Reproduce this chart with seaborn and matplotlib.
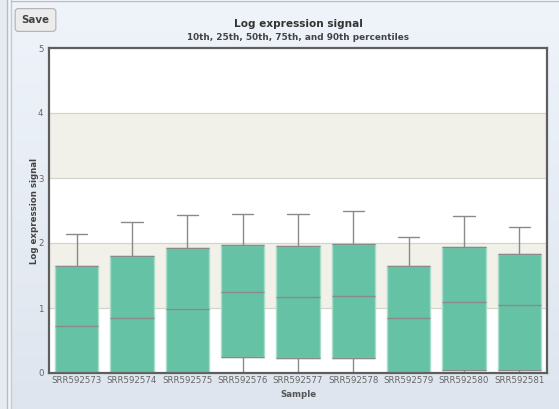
import numpy as np
import pandas as pd
import seaborn as sns
import matplotlib.pyplot as plt
from matplotlib.patches import Rectangle
from matplotlib.lines import Line2D

samples = ['SRR592573', 'SRR592574', 'SRR592575', 'SRR592576', 'SRR592577',
           'SRR592578', 'SRR592579', 'SRR592580', 'SRR592581']
p10 = [0.0, 0.0, 0.0, 0.0, 0.0, 0.0, 0.0, 0.0, 0.0]
q25 = [0.0, 0.0, 0.0, 0.25, 0.23, 0.23, 0.0, 0.04, 0.04]
med = [0.73, 0.845, 0.985, 1.24, 1.17, 1.19, 0.845, 1.09, 1.05]
q75 = [1.64, 1.80, 1.92, 1.97, 1.95, 1.99, 1.64, 1.94, 1.83]
p90 = [2.14, 2.32, 2.43, 2.44, 2.44, 2.49, 2.09, 2.41, 2.25]

# expand the percentile summary so that np.percentile on 11 values gives
# back exactly p10 / q25 / median / q75 / p90
rows = []
for i, s in enumerate(samples):
    vals = [p10[i], p10[i], q25[i], q25[i], med[i], med[i], med[i],
            q75[i], q75[i], p90[i], p90[i]]
    for v in vals:
        rows.append({'Sample': s, 'value': v})
df = pd.DataFrame(rows)

sns.set_style('white')
plt.rcParams['font.family'] = ['DejaVu Sans']

fig = plt.figure(figsize=(5.59, 4.09), dpi=100)
W, H = 559, 409

# page background
bg = fig.add_axes([0, 0, 1, 1], zorder=-10)
bg.set_xlim(0, W)
bg.set_ylim(H, 0)
bg.axis('off')
grad = np.linspace(0, 1, 100).reshape(-1, 1)
top_c = np.array([0xef, 0xf4, 0xfb]) / 255
bot_c = np.array([0xdf, 0xe5, 0xee]) / 255
img = top_c * (1 - grad[..., None]) + bot_c * grad[..., None]
bg.imshow(img, extent=[11, W, H, 1], aspect='auto')
bg.add_patch(Rectangle((0, 0), 7, H, color='#e6ebf1'))
bg.add_patch(Rectangle((7, 0), 4, H, color='#f1f4f8'))
bg.add_line(Line2D([7, 7], [0, H], color='#b5bcc4', lw=1))
bg.add_line(Line2D([11, 11], [0, H], color='#c3cad2', lw=1))
bg.add_line(Line2D([11, W], [1, 1], color='#b5bcc4', lw=1))
bg.text(35.5, 20, 'Save', ha='center', va='center', fontsize=7.4, fontweight='bold',
        color='#444444',
        bbox=dict(boxstyle='round,pad=0.62,rounding_size=0.3', fc='#ececec', ec='#b0b0b0', lw=0.8))

ax = fig.add_axes([49 / W, 1 - 373 / H, (547 - 49) / W, (373 - 48) / H])
ax.set_facecolor('white')

# shaded bands and grid
for lo in [1, 3]:
    ax.axhspan(lo, lo + 1, facecolor='#f1f1ea', edgecolor='none', zorder=0)
for y in [1, 2, 3, 4]:
    ax.axhline(y, color='#d4d4cc', lw=0.9, zorder=0.5)

n_before = len(ax.patches)
box_w = 0.78
sns.boxplot(data=df, x='Sample', y='value', whis=(10, 90), showfliers=False,
            color='#66c2a5', saturation=1, width=box_w, linecolor='#8a8a8a',
            linewidth=1, ax=ax)
for p in ax.patches[n_before:]:
    p.set_edgecolor('#a9dcc9')
# darker top / bottom edges of the boxes
xs = np.arange(len(samples))
ax.hlines(q75, xs - box_w / 2, xs + box_w / 2, color='#8a8a8a', lw=1, zorder=3)
ax.hlines(q25, xs - box_w / 2, xs + box_w / 2, color='#8a8a8a', lw=1, zorder=3)

ax.set_ylim(0, 5)
ax.set_xlim(-0.5, 8.5)
ax.set_yticks([0, 1, 2, 3, 4, 5])
ax.tick_params(axis='both', length=0, labelsize=6.2, labelcolor='#666666')
ax.tick_params(axis='y', pad=4)
ax.tick_params(axis='x', pad=2.5)
for sp in ax.spines.values():
    sp.set_visible(True)
    sp.set_color('#5e5e5e')
    sp.set_linewidth(1.6)

ax.set_xlabel('Sample', fontsize=6.2, fontweight='bold', color='#555555', labelpad=3)
ax.set_ylabel('Log expression signal', fontsize=6.2, fontweight='bold', color='#444444', labelpad=-1)

fig.text(298 / W, 1 - 24 / H, 'Log expression signal', ha='center', va='center',
         fontsize=7.6, fontweight='bold', color='#333333')
fig.text(298 / W, 1 - 38 / H, '10th, 25th, 50th, 75th, and 90th percentiles', ha='center',
         va='center', fontsize=6.4, fontweight='bold', color='#444444')

fig.savefig('out.png', dpi=100)
